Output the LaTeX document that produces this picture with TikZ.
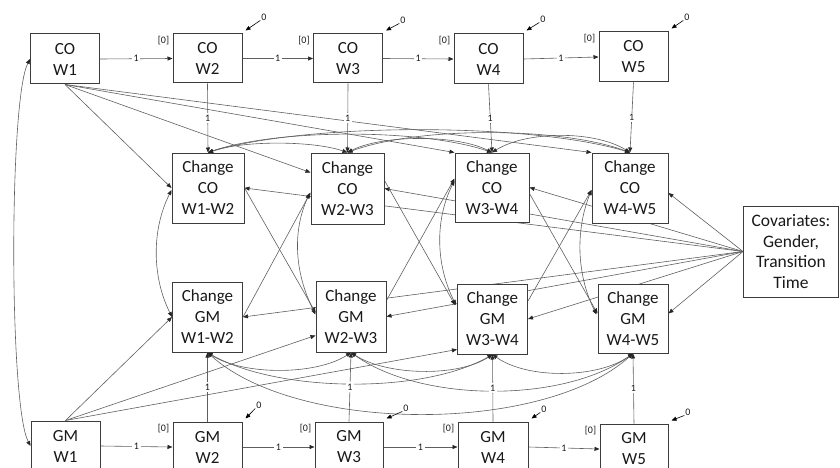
\documentclass[tikz,border=0pt]{standalone}
\usepackage{fontspec}
\setmainfont{Carlito}
\usetikzlibrary{arrows.meta,calc}
\definecolor{boxc}{RGB}{60,60,60}
\definecolor{linec}{RGB}{95,95,95}
\definecolor{txtc}{RGB}{25,25,25}
\pgfdeclarelayer{bg}
\pgfsetlayers{bg,main}
\begin{document}
\begin{tikzpicture}[x=1pt,y=-1pt,
  bx/.style={draw=boxc, fill=white, line width=1pt, inner sep=0pt, align=center, text=txtc, font=\fontsize{17}{21}\selectfont},
  conn/.style={draw=linec, line width=0.6pt, -{Triangle[length=5pt,width=4pt,color=black!85]}},
  dconn/.style={draw=linec, line width=0.6pt, {Triangle[length=5pt,width=4pt,color=black!85]}-{Triangle[length=5pt,width=4pt,color=black!85]}},
  lbl/.style={fill=white, inner sep=1.5pt, font=\fontsize{10}{12}\selectfont, text=txtc},
  small/.style={inner sep=0pt, font=\fontsize{10}{12}\selectfont, text=txtc},
  zarr/.style={draw=black, line width=0.6pt, -{Triangle[length=5pt,width=4pt]}},
]
\useasboundingbox (0,0) rectangle (840,468);
\clip (0,0) rectangle (840,468);

% level boxes CO
\node[bx, minimum width=69pt, minimum height=50pt] (co1) at (65,59) {CO\\W1};
\node[bx, minimum width=69pt, minimum height=49pt] (co2) at (207.5,58.5) {CO\\W2};
\node[bx, minimum width=69pt, minimum height=49pt] (co3) at (348,58.5) {CO\\W3};
\node[bx, minimum width=69pt, minimum height=50pt] (co4) at (488.5,59) {CO\\W4};
\node[bx, minimum width=69pt, minimum height=50pt] (co5) at (633.5,57) {CO\\W5};
% change CO
\node[bx, minimum width=72pt, minimum height=70pt] (cc12) at (208,188) {Change\\CO\\W1-W2};
\node[bx, minimum width=73pt, minimum height=71pt] (cc23) at (347.5,188.5) {Change\\CO\\W2-W3};
\node[bx, minimum width=74pt, minimum height=69pt] (cc34) at (492,187.5) {Change\\CO\\W3-W4};
\node[bx, minimum width=76pt, minimum height=70pt] (cc45) at (630,188) {Change\\CO\\W4-W5};
% change GM
\node[bx, minimum width=70pt, minimum height=70pt] (cg12) at (207.5,317) {Change\\GM\\W1-W2};
\node[bx, minimum width=70pt, minimum height=71pt] (cg23) at (351,316.5) {Change\\GM\\W2-W3};
\node[bx, minimum width=70pt, minimum height=70pt] (cg34) at (492.5,319) {Change\\GM\\W3-W4};
\node[bx, minimum width=70pt, minimum height=69pt] (cg45) at (633,318.5) {Change\\GM\\W4-W5};
% level boxes GM
\node[bx, minimum width=69pt, minimum height=50pt] (gm1) at (65.5,446) {GM\\W1};
\node[bx, minimum width=69pt, minimum height=50pt] (gm2) at (207.5,447) {GM\\W2};
\node[bx, minimum width=68pt, minimum height=50pt] (gm3) at (349,447) {GM\\W3};
\node[bx, minimum width=70pt, minimum height=50pt] (gm4) at (493,447) {GM\\W4};
\node[bx, minimum width=68pt, minimum height=50pt] (gm5) at (634,449) {GM\\W5};
% covariates
\node[bx, minimum width=95pt, minimum height=91pt, font=\fontsize{17.5}{20.5}\selectfont] (cov) at (791,251.5) {Covariates:\\Gender,\\Transition\\Time};

% [0] labels and 0 labels
\foreach \n in {co2,co3,co4,co5,gm2,gm3,gm4,gm5}{
  \node[small] (b\n) at ($(\n.north west)+(-9,7)$) {[0]};
}
\node[small] (zco2) at (264,17) {0};
\node[small] (zco3) at (403,20) {0};
\node[small] (zco4) at (543,19) {0};
\node[small] (zco5) at (687,17) {0};
\node[small] (zgm2) at (259,405) {0};
\node[small] (zgm3) at (406,408) {0};
\node[small] (zgm4) at (544,409) {0};
\node[small] (zgm5) at (688,412) {0};
\foreach \n in {co2,co3,co4,co5,gm2,gm3,gm4,gm5}{
  \draw[zarr] ($(z\n.south west)+(-1,0)$) -- ($(\n.north east)+(3,-3)$);
}

\begin{pgfonlayer}{bg}
% left arc CO W1 <-> GM W1
\draw[dconn] (co1.west) .. controls (9,100) and (9,405) .. (gm1.west);

% CO W1 to changes
\draw[conn] (co1.south) -- (cc12.west);
\draw[conn] (co1.south) -- ($(cc23.west)+(0,-16)$);
\draw[conn] (co1.south) -- (cc34.north west);
\draw[conn] (co1.south) -- (cc45.north west);
% GM W1 to changes
\draw[conn] (gm1.north) -- (cg12.west);
\draw[conn] (gm1.north) -- ($(cg23.west)+(0,19)$);
\draw[conn] (gm1.north) -- ($(cg34.south west)+(0,-5)$);

% covariates
\draw[conn] (cov.west) -- (cc12.east);
\draw[conn] (cov.west) -- (cc23.east);
\draw[conn] (cov.west) -- (cc34.east);
\draw[conn] (cov.west) -- ($(cc45.east)+(0,5)$);
\draw[conn] (cov.west) -- (cg12.east);
\draw[conn] (cov.west) -- (cg23.east);
\draw[conn] (cov.west) -- (cg34.east);
\draw[conn] (cov.west) -- ($(cg45.east)+(0,-5)$);

% cross-lagged change paths
\draw[conn] (cc12.east) -- ($(cg23.west)+(0,-4)$);
\draw[conn] (cg12.east) -- ($(cc23.west)+(0,4)$);
\draw[conn] ($(cc23.east)+(0,-8)$) -- ($(cg34.west)+(-2,-14)$);
\draw[conn] ($(cg23.east)+(0,-16)$) -- ($(cc34.west)+(0,-9)$);
\draw[conn] ($(cc34.east)+(0,6)$) -- ($(cg45.west)+(0,-5)$);
\draw[conn] ($(cg34.east)+(0,-18)$) -- ($(cc45.west)+(0,2)$);

% vertical covariance arcs
\draw[dconn] ($(cc12.west)+(0,2)$) .. controls +(-20,40) and +(-20,-40) .. (cg12.west);
\draw[dconn] ($(cc23.west)+(-1,5)$) .. controls +(-18,40) and +(-20,-40) .. ($(cg23.west)+(0,-2)$);
\draw[dconn] ($(cc34.west)+(0,-7)$) .. controls +(-20,40) and +(-20,-40) .. ($(cg34.west)+(-1,-14)$);
\draw[dconn] ($(cc45.west)+(0,2)$) .. controls +(-16,40) and +(-20,-40) .. ($(cg45.west)+(-1,-4)$);

% top arcs among change CO
\draw[dconn] (cc12.north) .. controls +(35,-12) and +(-35,-12) .. (cc23.north);
\draw[dconn] (cc12.north) .. controls +(70,-24) and +(-70,-24) .. (cc34.north);
\draw[dconn] (cc12.north) .. controls +(100,-30) and +(-100,-30) .. (cc45.north);
\draw[dconn] (cc23.north) .. controls +(35,-18) and +(-35,-18) .. (cc34.north);
\draw[dconn] (cc23.north) .. controls +(70,-26) and +(-70,-26) .. (cc45.north);
\draw[dconn] (cc34.north) .. controls +(35,-22) and +(-35,-22) .. (cc45.north);

% bottom arcs among change GM
\draw[dconn] (cg12.south) .. controls +(35,23) and +(-35,23) .. (cg23.south);
\draw[dconn] (cg12.south) .. controls +(70,40) and +(-70,40) .. (cg34.south);
\draw[dconn] (cg12.south) .. controls +(90,81) and +(-90,81) .. (cg45.south);
\draw[dconn] (cg23.south) .. controls +(35,23) and +(-35,23) .. (cg34.south);
\draw[dconn] (cg23.south) .. controls +(70,50) and +(-70,50) .. (cg45.south);
\draw[dconn] (cg34.south) .. controls +(35,25) and +(-35,25) .. (cg45.south);

% unit paths CO row
\draw[conn] (co1.east) -- node[lbl]{1} (co2.west);
\draw[conn] (co2.east) -- node[lbl]{1} (co3.west);
\draw[conn] (co3.east) -- node[lbl]{1} (co4.west);
\draw[conn] (co4.east) -- node[lbl]{1} (co5.west);
\draw[conn] (co2.south) -- node[lbl]{1} (cc12.north);
\draw[conn] (co3.south) -- node[lbl]{1} (cc23.north);
\draw[conn] (co4.south) -- node[lbl]{1} (cc34.north);
\draw[conn] (co5.south) -- node[lbl]{1} (cc45.north);
% unit paths GM row
\draw[conn] (gm1.east) -- node[lbl]{1} (gm2.west);
\draw[conn] (gm2.east) -- node[lbl]{1} (gm3.west);
\draw[conn] (gm3.east) -- node[lbl]{1} (gm4.west);
\draw[conn] (gm4.east) -- node[lbl]{1} (gm5.west);
\draw[conn] (gm2.north) -- node[lbl]{1} (cg12.south);
\draw[conn] (gm3.north) -- node[lbl]{1} (cg23.south);
\draw[conn] (gm4.north) -- node[lbl]{1} (cg34.south);
\draw[conn] (gm5.north) -- node[lbl]{1} (cg45.south);
\end{pgfonlayer}
\end{tikzpicture}
\end{document}
